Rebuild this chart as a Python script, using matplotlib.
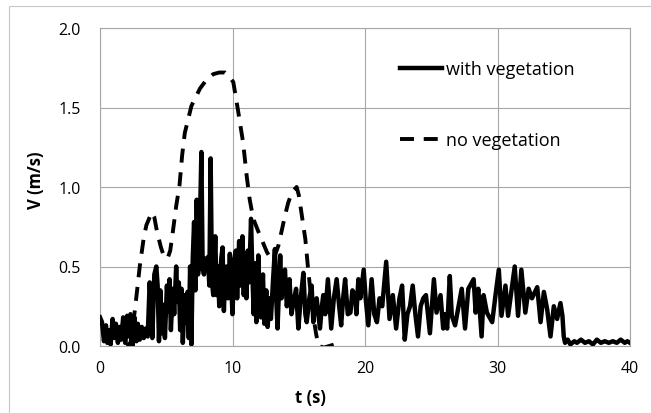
import matplotlib
matplotlib.use("Agg")
import matplotlib.pyplot as plt
from matplotlib.patches import Rectangle

plt.rcParams['font.family'] = ['Open Sans', 'DejaVu Sans']

# ---- data: with vegetation (t, V) ----
t_veg = [0.0, 0.15, 0.3, 0.45, 0.55, 0.7, 0.8, 0.95, 1.1, 1.2, 1.35, 1.5, 1.6, 1.75, 1.9,
         2.05, 2.15, 2.3, 2.45, 2.6, 2.75, 2.85, 3.0, 3.15, 3.3, 3.45, 3.6,
         3.75, 3.85, 3.95, 4.1, 4.25, 4.35, 4.45, 4.55, 4.65, 4.75, 4.9, 5.05, 5.15, 5.25,
         5.35, 5.5, 5.6, 5.75, 5.85, 5.95, 6.05, 6.15, 6.25, 6.4, 6.5, 6.6, 6.7, 6.8, 6.9,
         7.0, 7.1, 7.2, 7.3, 7.4, 7.55, 7.65, 7.75, 7.85, 7.95, 8.05, 8.15, 8.25, 8.35,
         8.45, 8.55, 8.7, 8.8, 8.9, 9.0, 9.15, 9.25, 9.35, 9.45, 9.55, 9.65, 9.8, 9.9,
         10.0, 10.15, 10.25, 10.35, 10.5, 10.6, 10.75, 10.85, 10.95, 11.05, 11.15, 11.25,
         11.4, 11.5, 11.6, 11.7, 11.8, 11.95, 12.05, 12.15, 12.3, 12.4, 12.55, 12.65, 12.8, 12.9,
         13.05, 13.2, 13.3, 13.4, 13.6, 13.7, 13.85, 13.96, 14.1, 14.3, 14.45, 14.55, 14.8,
         14.97, 15.15, 15.35, 15.5, 15.6, 15.8, 15.97, 16.1, 16.25, 16.35, 16.6, 16.75, 16.85,
         17.0, 17.2, 17.45, 17.65, 17.86, 18.05, 18.2, 18.35, 18.5, 18.7, 18.9, 19.05, 19.25,
         19.35, 19.5, 19.65, 19.9, 20.05, 20.25, 20.5, 20.7, 20.9, 21.1, 21.3, 21.6, 21.85,
         22.1, 22.35, 22.6, 22.8, 23.0, 23.2, 23.4, 23.6, 23.8, 24.0, 24.2, 24.4, 24.6, 24.9,
         25.2, 25.4, 25.7, 25.9, 26.0, 26.2, 26.4, 26.55, 26.8, 27.3, 27.55, 27.8, 28.2,
         28.35, 28.55, 28.8, 28.95, 29.2, 29.6, 29.85, 30.1, 30.3, 30.6, 30.8, 31.3, 31.55,
         31.8, 32.1, 32.35, 32.6, 33.0, 33.25, 33.5, 33.75, 34.0, 34.25, 34.5, 34.75, 34.9,
         35.0, 35.1, 35.3, 35.5, 35.8, 36.0, 36.3, 36.6, 36.9, 37.2, 37.5, 37.8, 38.1, 38.4,
         38.7, 39.0, 39.3, 39.6, 39.8, 40.0]
v_veg = [0.18, 0.15, 0.03, 0.13, 0.02, 0.10, 0.01, 0.17, 0.05, 0.14, 0.02, 0.12, 0.04, 0.18, 0.02,
         0.19, 0.06, 0.20, 0.00, 0.18, 0.03, 0.14, 0.04, 0.12, 0.05, 0.11, 0.06,
         0.40, 0.25, 0.05, 0.45, 0.50, 0.38, 0.03, 0.35, 0.08, 0.26, 0.05, 0.38, 0.22, 0.42,
         0.10, 0.36, 0.20, 0.50, 0.28, 0.40, 0.10, 0.36, 0.02, 0.32, 0.15, 0.34, 0.05, 0.50, 0.01,
         0.55, 0.78, 0.35, 0.92, 0.45, 0.80, 1.22, 0.48, 0.45, 0.55, 0.48, 0.56, 0.38, 1.18,
         0.40, 0.32, 0.69, 0.32, 0.50, 0.25, 0.55, 0.62, 0.22, 0.45, 0.50, 0.30, 0.58, 0.38,
         0.20, 0.55, 0.60, 0.30, 0.66, 0.38, 0.69, 0.32, 0.58, 0.30, 0.60, 0.40,
         0.80, 0.45, 0.20, 0.52, 0.15, 0.57, 0.30, 0.18, 0.45, 0.14, 0.35, 0.12, 0.30, 0.17,
         0.40, 0.61, 0.30, 0.11, 0.57, 0.30, 0.40, 0.48, 0.25, 0.42, 0.20, 0.25, 0.36,
         0.11, 0.30, 0.46, 0.20, 0.15, 0.30, 0.38, 0.15, 0.28, 0.30, 0.11, 0.25, 0.32,
         0.20, 0.42, 0.11, 0.30, 0.42, 0.25, 0.13, 0.30, 0.42, 0.20, 0.21, 0.35, 0.32,
         0.20, 0.42, 0.30, 0.48, 0.30, 0.13, 0.42, 0.20, 0.15, 0.30, 0.25, 0.53, 0.17,
         0.32, 0.11, 0.30, 0.38, 0.04, 0.20, 0.25, 0.38, 0.20, 0.06, 0.25, 0.30, 0.32, 0.08,
         0.42, 0.21, 0.32, 0.11, 0.20, 0.11, 0.44, 0.19, 0.13, 0.36, 0.11, 0.36, 0.42,
         0.21, 0.36, 0.06, 0.32, 0.21, 0.15, 0.32, 0.48, 0.19, 0.38, 0.19, 0.50, 0.19,
         0.48, 0.21, 0.36, 0.30, 0.37, 0.15, 0.34, 0.23, 0.06, 0.25, 0.17, 0.27, 0.19,
         0.06, 0.02, 0.04, 0.01, 0.03, 0.02, 0.04, 0.02, 0.03, 0.01, 0.04, 0.02, 0.03, 0.02,
         0.03, 0.02, 0.04, 0.02, 0.03, 0.02]

# ---- data: no vegetation (t, V) ----
t_noveg = [2.0, 2.3, 2.64, 3.0, 3.3, 3.5, 3.9, 4.1, 4.3, 4.6, 4.8, 5.1, 5.3, 5.5, 5.75, 6.0,
           6.2, 6.4, 6.9, 7.55, 8.0, 8.55, 9.0, 9.43, 9.7, 10.06, 10.4, 10.8, 11.07, 11.3,
           11.57, 11.95, 12.3, 12.6, 12.96, 13.2, 13.46, 13.7, 13.96, 14.2, 14.5, 14.84, 15.0,
           15.2, 15.5, 15.7, 15.9, 16.1, 16.3, 16.5, 16.9, 17.3, 17.7, 18.0]
v_noveg = [0.0, 0.02, 0.23, 0.50, 0.68, 0.76, 0.84, 0.81, 0.72, 0.62, 0.57, 0.55, 0.60, 0.72, 0.88, 1.01,
           1.20, 1.34, 1.51, 1.62, 1.67, 1.71, 1.72, 1.72, 1.70, 1.66, 1.49, 1.28, 1.07, 0.92,
           0.80, 0.72, 0.65, 0.59, 0.54, 0.57, 0.63, 0.72, 0.82, 0.90, 0.97, 1.00, 0.95,
           0.84, 0.67, 0.49, 0.33, 0.19, 0.08, 0.0, -0.01, 0.0, 0.01, 0.005]

x_ticks = [0, 10, 20, 30, 40]
y_ticks = [0.0, 0.5, 1.0, 1.5, 2.0]
y_ticklabels = ['0.0', '0.5', '1.0', '1.5', '2.0']

W, H = 651, 414
fig = plt.figure(figsize=(W / 100, H / 100), dpi=100)
ax = fig.add_axes([100 / W, 1 - 347 / H, 530 / W, 318 / H])

grid_c = '#a6a6a6'
ax.plot(t_veg, v_veg, color='black', lw=3.2, solid_joinstyle='round', label='with vegetation', zorder=3)
ln, = ax.plot(t_noveg, v_noveg, color='black', lw=2.8, label='no vegetation', zorder=3)
ln.set_dashes((3.6, 2.5))
ln.set_dash_capstyle('butt')

ax.set_xlim(0, 40)
ax.set_ylim(0, 2.0)
ax.set_xticks(x_ticks)
ax.set_yticks(y_ticks)
ax.set_yticklabels(y_ticklabels)
ax.grid(True, color=grid_c, lw=0.8)
ax.set_axisbelow(True)
for s in ax.spines.values():
    s.set_color(grid_c)
    s.set_linewidth(0.8)
ax.tick_params(length=0, labelsize=11.5, colors='black')
ax.tick_params(axis='y', pad=14)
ax.tick_params(axis='x', pad=10)

ax.set_xlabel('t (s)', fontsize=12, fontweight='bold', va='center')
ax.xaxis.set_label_coords((310 - 100) / 530, (347 - 398) / 318)
ax.set_ylabel('V (m/s)', fontsize=12, fontweight='bold', va='center')
ax.yaxis.set_label_coords((36 - 100) / 530, (347 - 180) / 318)

leg = ax.legend(loc='upper left', bbox_to_anchor=((400 - 100) / 530, (347 - 61) / 318),
                frameon=False, fontsize=13, handlelength=2.33, handletextpad=0.22,
                labelspacing=2.94, borderpad=0, borderaxespad=0)

fig.patches.append(Rectangle((9 / W, -0.1), 1.2, 1.1 - 7 / H, transform=fig.transFigure,
                             fill=False, edgecolor='#c8c8c8', lw=0.8))

fig.savefig('out.png', dpi=100)
